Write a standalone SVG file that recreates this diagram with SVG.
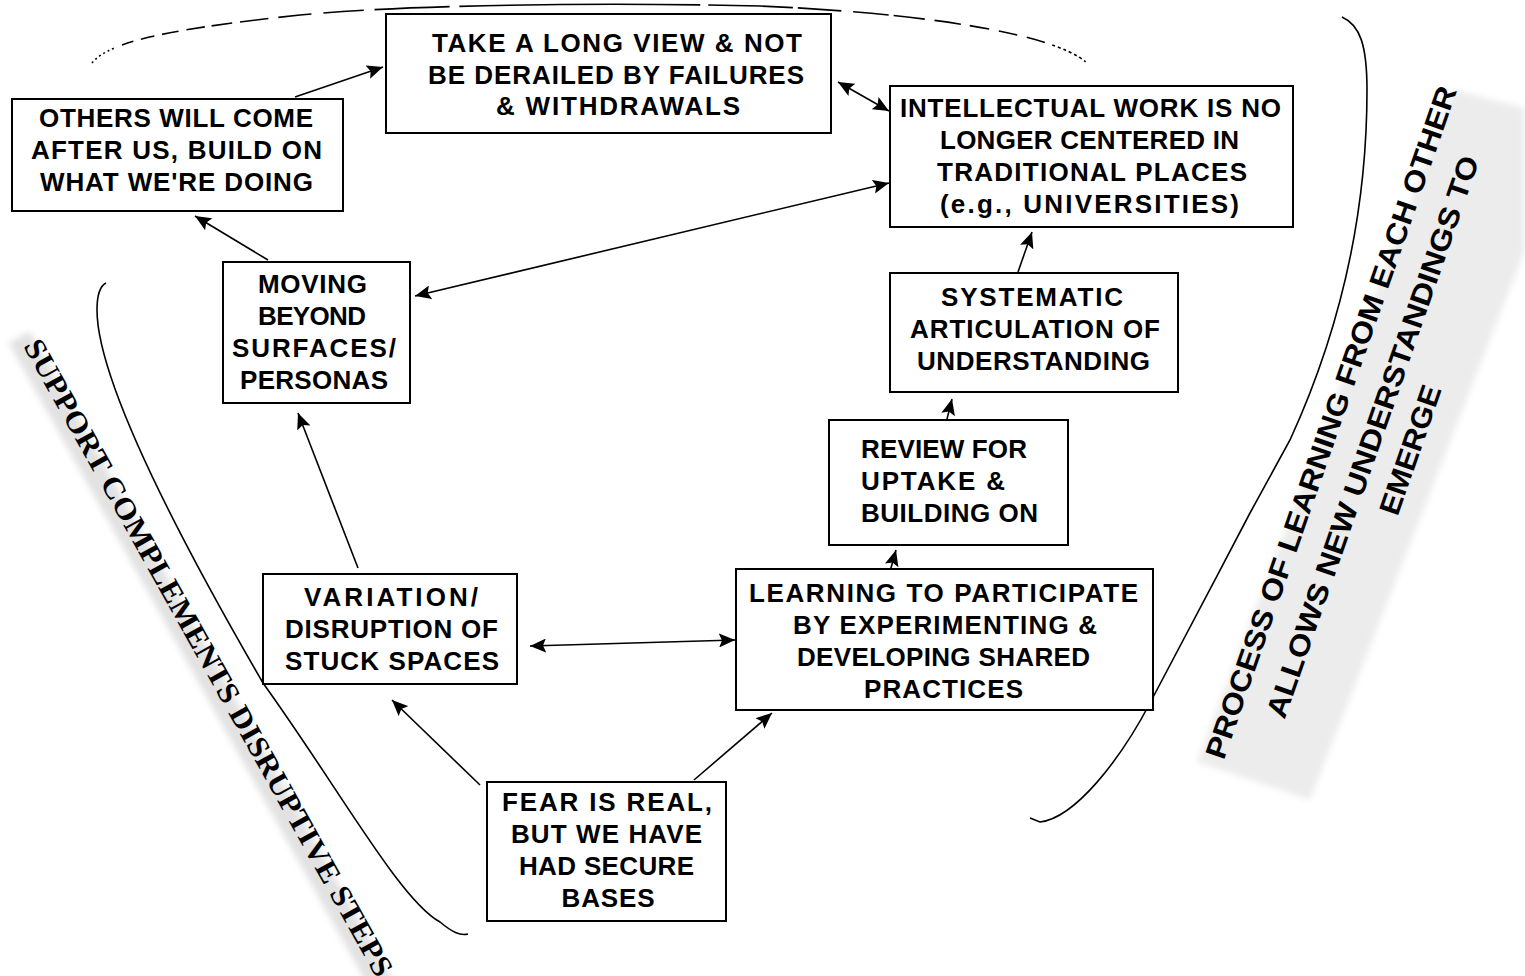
<svg xmlns="http://www.w3.org/2000/svg" width="1525" height="976" viewBox="0 0 1525 976">
<style>
.box{fill:#fff;stroke:#000;stroke-width:2}
.t{font-family:"Liberation Sans",Arial,sans-serif;font-weight:bold;font-size:26px;fill:#000;text-anchor:middle}
.tl{text-anchor:start}
.con{fill:none;stroke:#000;stroke-width:1.6}
.curve{fill:none;stroke:#000;stroke-width:1.6}
.side{font-family:"Liberation Serif","Times New Roman",serif;font-weight:bold;font-size:30px;fill:#000;text-anchor:middle}
.side2{font-family:"Liberation Sans",Arial,sans-serif;font-weight:bold;font-size:29px;fill:#000;text-anchor:middle}
</style>
<defs>
<marker id="ah" markerUnits="userSpaceOnUse" markerWidth="17" markerHeight="14" refX="16" refY="7" orient="auto-start-reverse" viewBox="0 0 17 14">
<path d="M0,0 L16,7 L0,14 L3,7 z" fill="#000"/>
</marker>
<filter id="blur" x="-10%" y="-50%" width="120%" height="200%"><feGaussianBlur stdDeviation="3"/></filter>
</defs>
<rect width="1525" height="976" fill="#fff"/>

<g id="background-bands">
<polygon points="1453,90 1525,108 1525,250 1310,800 1197,762" fill="#ececec" filter="url(#blur)"/>
<g transform="translate(209.5,657) rotate(60.8)">
<rect x="-372" y="-2" width="744" height="24" fill="#e2e2e2" filter="url(#blur)"/>
</g>
</g>

<g id="curves">
<path class="curve" d="M92,63 C110,40 180,28 300,15 C400,5 600,2 760,6 C900,12 1050,30 1087,63" stroke-width="2" pathLength="1025" stroke-dasharray="2 3 2 3 2 3 2 3 2 3 2 9 12 8 14 8 17 8 19 7 21 8 29 10 34 12 41 11 76 10 244 8 86 5 44 12 36 5 32 10 27 9 20 10 19 10 19 8 3 3 3 3 3 3 3 3 3 3 3 3 2 40"/>
<path class="curve" d="M106,283 C100,286 97,295 97,310 C97,380 180,540 263,683 C340,790 400,900 440,922 C452,932 460,936 468,934"/>
<path class="curve" d="M1342,17 C1360,25 1367,45 1367,90 C1367,200 1345,320 1290,440 L1250,513 C1215,580 1170,665 1150,703 C1120,760 1075,818 1040,822 L1030,818"/>
</g>

<g id="side-labels">
<g transform="translate(209.5,657) rotate(60.8)">
<text class="side" x="0" y="11" textLength="725" lengthAdjust="spacingAndGlyphs">SUPPORT COMPLEMENTS DISRUPTIVE STEPS</text>
</g>
<g transform="translate(1330,422) rotate(-70.8)">
<text class="side2" x="0" y="11" textLength="710" lengthAdjust="spacingAndGlyphs">PROCESS OF LEARNING FROM EACH OTHER</text>
<text class="side2" x="0" y="55" textLength="593" lengthAdjust="spacingAndGlyphs">ALLOWS NEW UNDERSTANDINGS TO</text>
<text class="side2" x="0" y="95" textLength="135" lengthAdjust="spacingAndGlyphs">EMERGE</text>
</g>
</g>

<g id="connectors">
<path class="con" d="M295,97 L383,67" marker-end="url(#ah)"/>
<path class="con" d="M838,82 L889,111" marker-start="url(#ah)" marker-end="url(#ah)"/>
<path class="con" d="M415,296 L889,183" marker-start="url(#ah)" marker-end="url(#ah)"/>
<path class="con" d="M268,260 L195,216" marker-end="url(#ah)"/>
<path class="con" d="M358,568 L298,413" marker-end="url(#ah)"/>
<path class="con" d="M530,646 L735,640" marker-start="url(#ah)" marker-end="url(#ah)"/>
<path class="con" d="M480,785 L392,700" marker-end="url(#ah)"/>
<path class="con" d="M694,780 L772,713" marker-end="url(#ah)"/>
<path class="con" d="M889,575 L896,550" marker-end="url(#ah)"/>
<path class="con" d="M946,423 L952,399" marker-end="url(#ah)"/>
<path class="con" d="M1018,272 L1032,232" marker-end="url(#ah)"/>
</g>

<g id="node-take-long-view">
<rect class="box" x="386" y="14" width="445" height="119"/>
<text class="t" x="617" y="52" textLength="370">TAKE A LONG VIEW &amp; NOT</text>
<text class="t" x="616" y="84" textLength="376">BE DERAILED BY FAILURES</text>
<text class="t" x="618" y="115" textLength="244">&amp; WITHDRAWALS</text>
</g>

<g id="node-others-will-come">
<rect class="box" x="12" y="99" width="331" height="112"/>
<text class="t" x="176" y="127" textLength="274">OTHERS WILL COME</text>
<text class="t" x="176.5" y="159" textLength="291">AFTER US, BUILD ON</text>
<text class="t" x="176.5" y="191" textLength="273">WHAT WE'RE DOING</text>
</g>

<g id="node-intellectual-work">
<rect class="box" x="890" y="86" width="403" height="141"/>
<text class="t" x="1090.5" y="117" textLength="381">INTELLECTUAL WORK IS NO</text>
<text class="t" x="1089.5" y="149" textLength="299">LONGER CENTERED IN</text>
<text class="t" x="1092" y="181" textLength="310">TRADITIONAL PLACES</text>
<text class="t" x="1089.5" y="213" textLength="299">(e.g., UNIVERSITIES)</text>
</g>

<g id="node-moving-beyond">
<rect class="box" x="223" y="262" width="187" height="141"/>
<text class="t" x="312.5" y="293" textLength="109">MOVING</text>
<text class="t" x="312" y="325" textLength="108">BEYOND</text>
<text class="t" x="314" y="357" textLength="164">SURFACES/</text>
<text class="t" x="314" y="389" textLength="148">PERSONAS</text>
</g>

<g id="node-systematic-articulation">
<rect class="box" x="890" y="273" width="288" height="119"/>
<text class="t" x="1032" y="306" textLength="182">SYSTEMATIC</text>
<text class="t" x="1035" y="338" textLength="250">ARTICULATION OF</text>
<text class="t" x="1033.5" y="370" textLength="233">UNDERSTANDING</text>
</g>

<g id="node-review-uptake">
<rect class="box" x="829" y="420" width="239" height="125"/>
<text class="t tl" x="861" y="458" textLength="166">REVIEW FOR</text>
<text class="t tl" x="861" y="490" textLength="144">UPTAKE &amp;</text>
<text class="t tl" x="861" y="522" textLength="177">BUILDING ON</text>
</g>

<g id="node-variation-disruption">
<rect class="box" x="263" y="574" width="254" height="110"/>
<text class="t" x="391" y="606" textLength="174">VARIATION/</text>
<text class="t" x="391.5" y="638" textLength="213">DISRUPTION OF</text>
<text class="t" x="392" y="670" textLength="214">STUCK SPACES</text>
</g>

<g id="node-learning-participate">
<rect class="box" x="736" y="569" width="417" height="141"/>
<text class="t" x="943.5" y="602" textLength="389">LEARNING TO PARTICIPATE</text>
<text class="t" x="945" y="634" textLength="304">BY EXPERIMENTING &amp;</text>
<text class="t" x="943.5" y="666" textLength="293">DEVELOPING SHARED</text>
<text class="t" x="943.5" y="698" textLength="159">PRACTICES</text>
</g>

<g id="node-fear-is-real">
<rect class="box" x="487" y="782" width="239" height="139"/>
<text class="t" x="607" y="811" textLength="210">FEAR IS REAL,</text>
<text class="t" x="606.5" y="843" textLength="191">BUT WE HAVE</text>
<text class="t" x="606.5" y="875" textLength="175">HAD SECURE</text>
<text class="t" x="608" y="907" textLength="93">BASES</text>
</g>
</svg>
